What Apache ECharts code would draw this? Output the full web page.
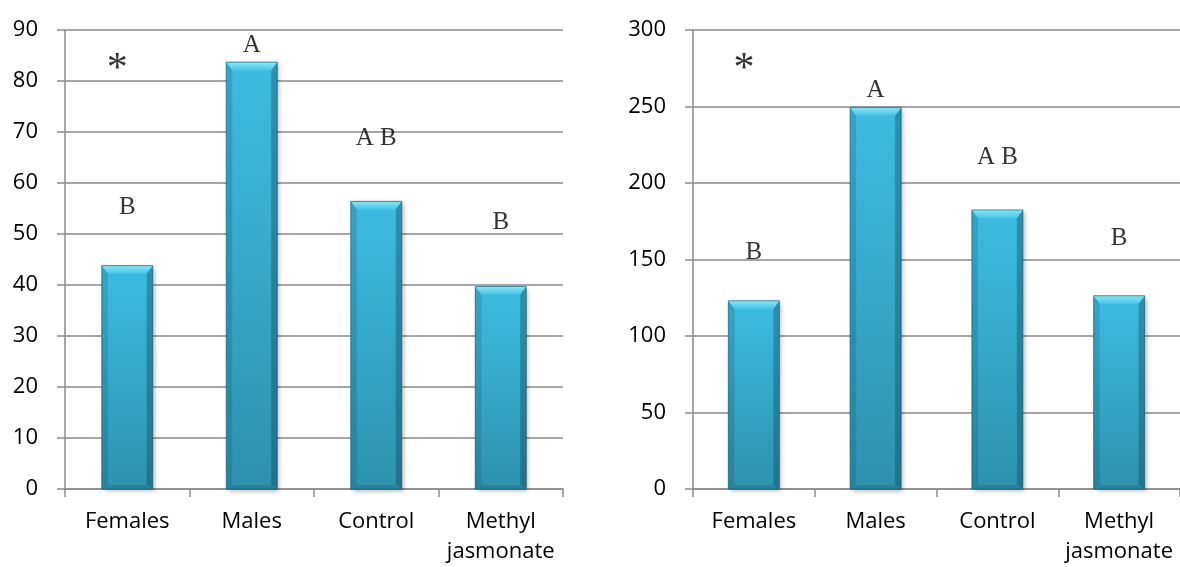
<!DOCTYPE html>
<html>
<head>
<meta charset="utf-8">
<script src="https://cdn.jsdelivr.net/npm/echarts@6/dist/echarts.min.js"></script>
<style>
  html, body { margin: 0; padding: 0; background: #ffffff; }
  #chart { width: 1180px; height: 567px; }
</style>
</head>
<body>
<div id="chart"></div>
<script>
// Categories shared by both panels
const categories = ['Females', 'Males', 'Control', 'Methyl\njasmonate'];

// Bar values
const leftValues = [43.8, 83.7, 56.4, 39.7];
const rightValues = [123, 249.4, 182.4, 126.3];

// Value axis ranges
const leftAxis = { min: 0, max: 90, interval: 10 };
const rightAxis = { min: 0, max: 300, interval: 50 };

// Significance letters and the heights they sit at
const leftLetters = ['B', 'A', 'A B', 'B'];
const leftLetterHeights = [55.3, 86.9, 68.8, 52.2];
const rightLetters = ['B', 'A', 'A B', 'B'];
const rightLetterHeights = [154.4, 260.6, 216.5, 163.6];
const starHeights = [83.7, 279.3];

const axisGray = '#8a8a8a';
const labelFont = { fontFamily: '"Open Sans", sans-serif', fontSize: 22, color: '#000' };
const letterFont = { fontFamily: '"Liberation Serif", "Times New Roman", serif', fontSize: 25, color: '#000' };

// Bevelled cyan bar drawn through the axis scales
function bevelBar(params, api) {
  const idx = api.value(0);
  const top = api.coord([idx, api.value(1)]);
  const base = api.coord([idx, 0]);
  const w = 51;
  const x0 = top[0] - w / 2, x1 = top[0] + w / 2;
  const y0 = top[1], y1 = base[1];
  const b = 8, s = 6;
  return {
    type: 'group',
    children: [
      {
        type: 'rect',
        shape: { x: x0, y: y0, width: w, height: y1 - y0 },
        style: {
          fill: new echarts.graphic.LinearGradient(0, 0, 0, 1, [
            { offset: 0, color: '#3dbce1' },
            { offset: 1, color: '#2d92ae' }
          ]),
          shadowBlur: 5, shadowOffsetX: 2, shadowOffsetY: 2,
          shadowColor: 'rgba(0,0,0,0.3)'
        }
      },
      {
        type: 'polygon',
        shape: { points: [[x0, y0], [x0 + s, y0 + b], [x0 + s, y1 - 4], [x0, y1]] },
        style: { fill: 'rgba(10,60,80,0.18)' }
      },
      {
        type: 'polygon',
        shape: { points: [[x1, y0], [x1 - s, y0 + b], [x1 - s, y1 - 4], [x1, y1]] },
        style: { fill: 'rgba(10,50,70,0.32)' }
      },
      {
        type: 'polygon',
        shape: { points: [[x0 + s, y1 - 4], [x1 - s, y1 - 4], [x1, y1], [x0, y1]] },
        style: { fill: 'rgba(10,50,70,0.15)' }
      },
      {
        type: 'polygon',
        shape: { points: [[x0, y0], [x1, y0], [x1 - s, y0 + b], [x0 + s, y0 + b]] },
        style: {
          fill: new echarts.graphic.LinearGradient(0, 0, 0, 1, [
            { offset: 0, color: '#8ae6f8' },
            { offset: 1, color: '#48c5e6' }
          ])
        }
      },
      {
        type: 'rect',
        shape: { x: x0, y: y0, width: w, height: y1 - y0 },
        style: { fill: 'none', stroke: 'rgba(20,80,100,0.6)', lineWidth: 1 }
      }
    ]
  };
}

function letterSeries(gridIdx, letters, heights) {
  return {
    type: 'scatter',
    xAxisIndex: gridIdx, yAxisIndex: gridIdx,
    symbolSize: 0,
    silent: true,
    data: letters.map((t, i) => ({ value: [i, heights[i]], name: t })),
    label: {
      show: true, position: 'inside',
      formatter: p => p.name,
      ...letterFont
    }
  };
}

function starSeries(gridIdx, h) {
  return {
    type: 'scatter',
    xAxisIndex: gridIdx, yAxisIndex: gridIdx,
    symbolSize: 0,
    silent: true,
    data: [[0, h]],
    label: {
      show: true, position: 'inside', offset: [-10, 8],
      formatter: '*',
      ...letterFont, fontSize: 42
    }
  };
}

function xAxisFor(gridIdx) {
  return {
    type: 'category', gridIndex: gridIdx, data: categories,
    axisLine: { lineStyle: { color: axisGray, width: 1.5 } },
    axisTick: { show: true, length: 8, lineStyle: { color: axisGray, width: 1.5 } },
    axisLabel: { interval: 0, margin: 18, lineHeight: 30, ...labelFont },
    splitLine: { show: false }
  };
}

function yAxisFor(gridIdx, range) {
  return {
    type: 'value', gridIndex: gridIdx,
    min: range.min, max: range.max, interval: range.interval,
    axisLine: { show: true, lineStyle: { color: axisGray, width: 1.5 } },
    axisTick: { show: true, length: 8, lineStyle: { color: axisGray, width: 1.5 } },
    axisLabel: { margin: 27, ...labelFont },
    splitLine: { show: true, lineStyle: { color: axisGray, width: 1.5 } }
  };
}

const chart = echarts.init(document.getElementById('chart'), null, { renderer: 'canvas' });
chart.setOption({
  animation: false,
  backgroundColor: '#ffffff',
  grid: [
    { left: 65, top: 30, width: 498, height: 459 },
    { left: 693, top: 30, width: 492, height: 459 }
  ],
  xAxis: [xAxisFor(0), xAxisFor(1)],
  yAxis: [yAxisFor(0, leftAxis), yAxisFor(1, rightAxis)],
  series: [
    {
      type: 'custom', xAxisIndex: 0, yAxisIndex: 0,
      renderItem: bevelBar,
      encode: { x: 0, y: 1 },
      data: leftValues.map((v, i) => [i, v])
    },
    {
      type: 'custom', xAxisIndex: 1, yAxisIndex: 1,
      renderItem: bevelBar,
      encode: { x: 0, y: 1 },
      data: rightValues.map((v, i) => [i, v])
    },
    letterSeries(0, leftLetters, leftLetterHeights),
    letterSeries(1, rightLetters, rightLetterHeights),
    starSeries(0, starHeights[0]),
    starSeries(1, starHeights[1])
  ]
});
</script>
</body>
</html>
